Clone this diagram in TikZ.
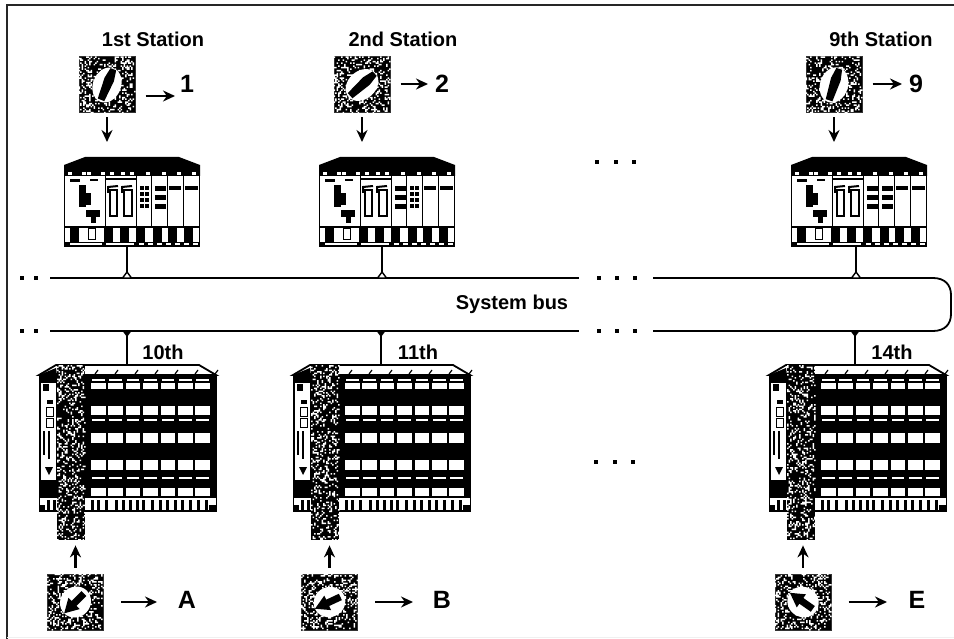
\documentclass[tikz,border=0pt]{standalone}
\usepackage{fontspec}
\setmainfont{Liberation Sans}
\usepackage{xcolor}
\usetikzlibrary{arrows.meta}

\tikzset{
    lbl/.style={font=\bfseries\fontsize{20}{22}\selectfont, inner sep=0pt},
    biglbl/.style={font=\bfseries\fontsize{25}{27}\selectfont, inner sep=0pt},
    flow/.style={-{Stealth[length=12pt, width=11pt]}, line width=2.4pt},
    wire/.style={line width=1.8pt, black},
    swbox/.style={draw=black!80, line width=1pt, fill=black, minimum size=56pt, inner sep=0pt},
    rackbox/.style={minimum width=136pt, minimum height=90pt, inner sep=0pt, anchor=north west},
    iobox/.style={minimum width=178pt, minimum height=147pt, inner sep=0pt, anchor=north west},
    pillar/.style={fill=black, minimum width=28pt, minimum height=175pt, inner sep=0pt, anchor=north west},
    busdot/.style={fill=black, minimum size=3.5pt, inner sep=0pt},
}

% white flecks on a black area
\newcommand{\speckle}[4]{%
    \fill[white, shift={(#1)}] \foreach \k in {1,...,#4} {
        ({1.5*int(rnd*#2/1.5)},{1.5*int(rnd*#3/1.5)}) rectangle ++(1.5,1.5)
    };
}
% knob of a switch
\newcommand{\knobbar}[2]{%
    \fill[white, shift={(#1)}, rotate=#2] (0,0) ellipse (18 and 14);
    \fill[black, shift={(#1)}, rotate=#2] (-16,-3.5) -- (6,-5) -- (17,-3) -- (17,3) -- (6,5) -- (-16,3.5) -- cycle;
}
\newcommand{\knobhead}[2]{%
    \fill[white, shift={(#1)}, rotate=#2] (0,0) ellipse (16 and 15);
    \fill[black, shift={(#1)}, rotate=#2] (-12,-3.5) -- (2,-3.5) -- (2,-8) -- (16,0) -- (2,8) -- (2,3.5) -- (-12,3.5) -- cycle;
}
% two kinds of plug-in modules
\newcommand{\slotgrid}[1]{%
    \foreach \yy in {29,35,41,47} {
        \fill[black] (#1,\yy) rectangle ++(3.5,4);
        \fill[black] (#1+5,\yy) rectangle ++(3.5,4);
    }
}
\newcommand{\slotbars}[1]{%
    \foreach \yy in {29,38,47} {
        \fill[black] (#1,\yy) rectangle ++(11,5);
    }
}

\begin{document}
\begin{tikzpicture}[x=1pt, y=-1pt]
    \useasboundingbox (0,0) rectangle (954,639);
    \pgfmathsetseed{4242}

    % Frame
    \draw[line width=1.8pt, black!85] (954,5) -- (7,5) -- (7,639);
    \draw[line width=1pt, black!6] (7,637.5) -- (954,637.5);

    % System bus
    \draw[wire] (50,278) -- (579,278);
    \draw[wire] (50,331) -- (579,331);
    \draw[wire] (653,278) -- (933,278) .. controls (945,278) and (951,285) .. (951,295)
        -- (951,314) .. controls (951,324) and (945,331) .. (933,331) -- (653,331);
    \node[lbl] (busname) at (512,304) {System bus};
    \foreach \x in {22,36,599,617,635} {
        \node[busdot] (dotu\x) at (\x,278) {};
        \node[busdot] (dotl\x) at (\x,331) {};
    }
    \foreach \x in {597,616,634} {
        \node[busdot] (dott\x) at (\x,162) {};
        \node[busdot] (dotb\x) at (\x-1,462) {};
    }

    % Stations on top of the bus
    \foreach \i/\xsw/\xr/\xtap/\xtxt/\txt/\xnum/\num/\xtip/\ytip/\ang/\mA/\mB in {
        1/107/64/127/153/1st Station/187/1/175/96/68/\slotgrid/\slotbars,
        2/362/319/382/403/2nd Station/442/2/428/84/42/\slotbars/\slotgrid,
        3/834/791/856/881/9th Station/916/9/902/84/72/\slotbars/\slotbars} {
        \node[lbl] (name\i) at (\xtxt,39) {\txt};
        \node[swbox] (sw\i) at (\xsw,85) {};
        \speckle{sw\i.north west}{56}{56}{430}
        \knobbar{sw\i}{\ang}
        \node[biglbl] (num\i) at (\xnum,84) {\num};
        \coordinate (tip\i) at (\xtip,\ytip);
        \draw[flow, shorten <=10pt] (sw\i.east |- tip\i) -- (tip\i);

        \node[rackbox] (rack\i) at (\xr,157) {};
        \draw[flow, shorten <=4pt, shorten >=15pt] (sw\i.south) -- (sw\i.south |- rack\i.north);
        \begin{scope}[shift={(rack\i.north west)}]
            \fill[black] (0,8) -- (21,0) -- (115,0) -- (136,8) -- (136,19) -- (0,19) -- cycle;
            \foreach \x in {4,18,23,37,46,57,66,82,98,113,128} {
                \fill[white] (\x,15) rectangle ++(4,3);
            }
            \draw[wire] (0.5,8) -- (0.5,89.5) -- (135.5,89.5) -- (135.5,8);
            \foreach \x in {41,72,87,103,119} {
                \draw[wire, line width=1pt] (\x,19) -- (\x,69);
            }
            % left module
            \fill[black] (6,22) rectangle (16,25);
            \fill[black] (26,22) rectangle (34,24);
            \fill[black] (15,28) rectangle (22,50);
            \fill[black] (22,36) rectangle (27,48);
            \fill[black] (22,53) rectangle (36,60);
            \fill[black] (27,60) rectangle (32,66);
            % double module
            \draw[wire] (41,22) -- (72,22);
            \draw[wire] (46,33) rectangle (53,59);
            \draw[wire] (60,33) rectangle (68,59);
            \draw[wire, line width=2pt] (44,36) -- (44,30) -- (54,29);
            \draw[wire, line width=2pt] (58,36) -- (58,30) -- (68,29);
            % narrow modules
            \mA{76}
            \mB{91}
            \fill[black] (105,29) rectangle (117,33);
            \fill[black] (121,29) rectangle (134,33);
            % front row
            \draw[wire] (0,70) -- (136,70);
            \foreach \x in {6,40,56,72,89,104,120} {
                \fill[black] (\x,71) rectangle ++(9,14);
            }
            \draw[wire, line width=1pt] (24,72) rectangle (31,83);
            \fill[black] (0,85) rectangle (136,90);
            \fill[white] (6,86.5) rectangle (38,88.5);
            \fill[white] (42,86.5) rectangle (70,88.5);
            \foreach \x in {75,84,93,102,111,120,129} {
                \fill[white] (\x,86.5) rectangle ++(5,2);
            }
        \end{scope}

        % tap on the bus
        \coordinate (tapu\i) at (\xtap,272);
        \draw[wire] (tapu\i |- rack\i.south) -- (tapu\i);
        \draw[wire, line width=1.4pt, fill=white] (tapu\i) -- ++(-4.5,6) -- ++(9,0) -- cycle;
    }

    % I/O racks under the bus
    \foreach \i/\xsw/\xr/\xtap/\xtxt/\txt/\xtip/\xnum/\num/\ang in {
        1/75.5/39/127/163/10th/157/187/A/225,
        2/329.5/293/381/418/11th/413/442/B/205,
        3/803/769/855/892/14th/887/917/E/145} {
        \node[lbl] (ord\i) at (\xtxt,352) {\txt};
        \node[iobox] (io\i) at (\xr,365) {};
        \coordinate (tapl\i) at (\xtap,331);
        \draw[wire] (tapl\i) -- (tapl\i |- io\i.north);
        \fill[black] (tapl\i) ++(-4.5,0) -- ++(9,0) -- ++(-4.5,6) -- cycle;
        \begin{scope}[shift={(io\i.north west)}]
            \draw[wire, fill=white] (0,10) -- (17,0) -- (160,0) -- (177,10) -- cycle;
            \fill[black] (0,10) -- (17,3) -- (18,10) -- cycle;
            \fill[black] (0,10) rectangle (178,147);
            \foreach \x in {0,...,6} {
                \draw[black, line width=1.2pt] (56+20*\x,9) -- (59+20*\x,5);
                \foreach \r/\h in {18/6, 41/9, 68/10, 95/10, 123/8} {
                    \fill[white] (52+17.4*\x,\r) rectangle ++(14.5,\h);
                }
                \foreach \r in {14,54,112} {
                    \fill[white] (53+17.4*\x,\r) rectangle ++(12.5,2);
                }
            }
            % left module
            \fill[white] (2,18) rectangle (17,127);
            \fill[black] (4,19) rectangle (10,26);
            \fill[black] (8,35) rectangle (14,39);
            \draw[black, line width=1pt] (7,42) rectangle (14,51);
            \draw[black, line width=1pt] (7,53) rectangle (14,62);
            \fill[black] (4,66) rectangle (6,90);
            \fill[black] (9,66) rectangle (11,94);
            \fill[black] (6,102) -- (14,102) -- (10,110) -- cycle;
            \fill[black] (2,115) rectangle (17,127);
            % base
            \fill[white] (1,133) rectangle (177,145);
            \foreach \x in {8,14,52,58,66,76,83,90,97,103,112,120,127,135,142,150,158,166} {
                \fill[black] (\x,135) rectangle ++(3,10);
            }
            \fill[black] (1,140) rectangle (6,147);
            \fill[black] (170,140) rectangle (177,147);
            % dithered plate
            \node[pillar] (pil\i) at (18,0) {};
            \speckle{pil\i.north west}{28}{175}{620}
        \end{scope}

        \node[swbox] (swb\i) at (\xsw,602) {};
        \speckle{swb\i.north west}{56}{56}{430}
        \knobhead{swb\i}{\ang}
        \draw[flow, shorten <=6pt, shorten >=5pt] (swb\i.north) -- (swb\i.north |- pil\i.south);
        \node[biglbl] (let\i) at (\xnum,600) {\num};
        \coordinate (tipb\i) at (\xtip,602);
        \draw[flow, shorten <=17pt] (swb\i.east) -- (tipb\i);
    }
\end{tikzpicture}
\end{document}
